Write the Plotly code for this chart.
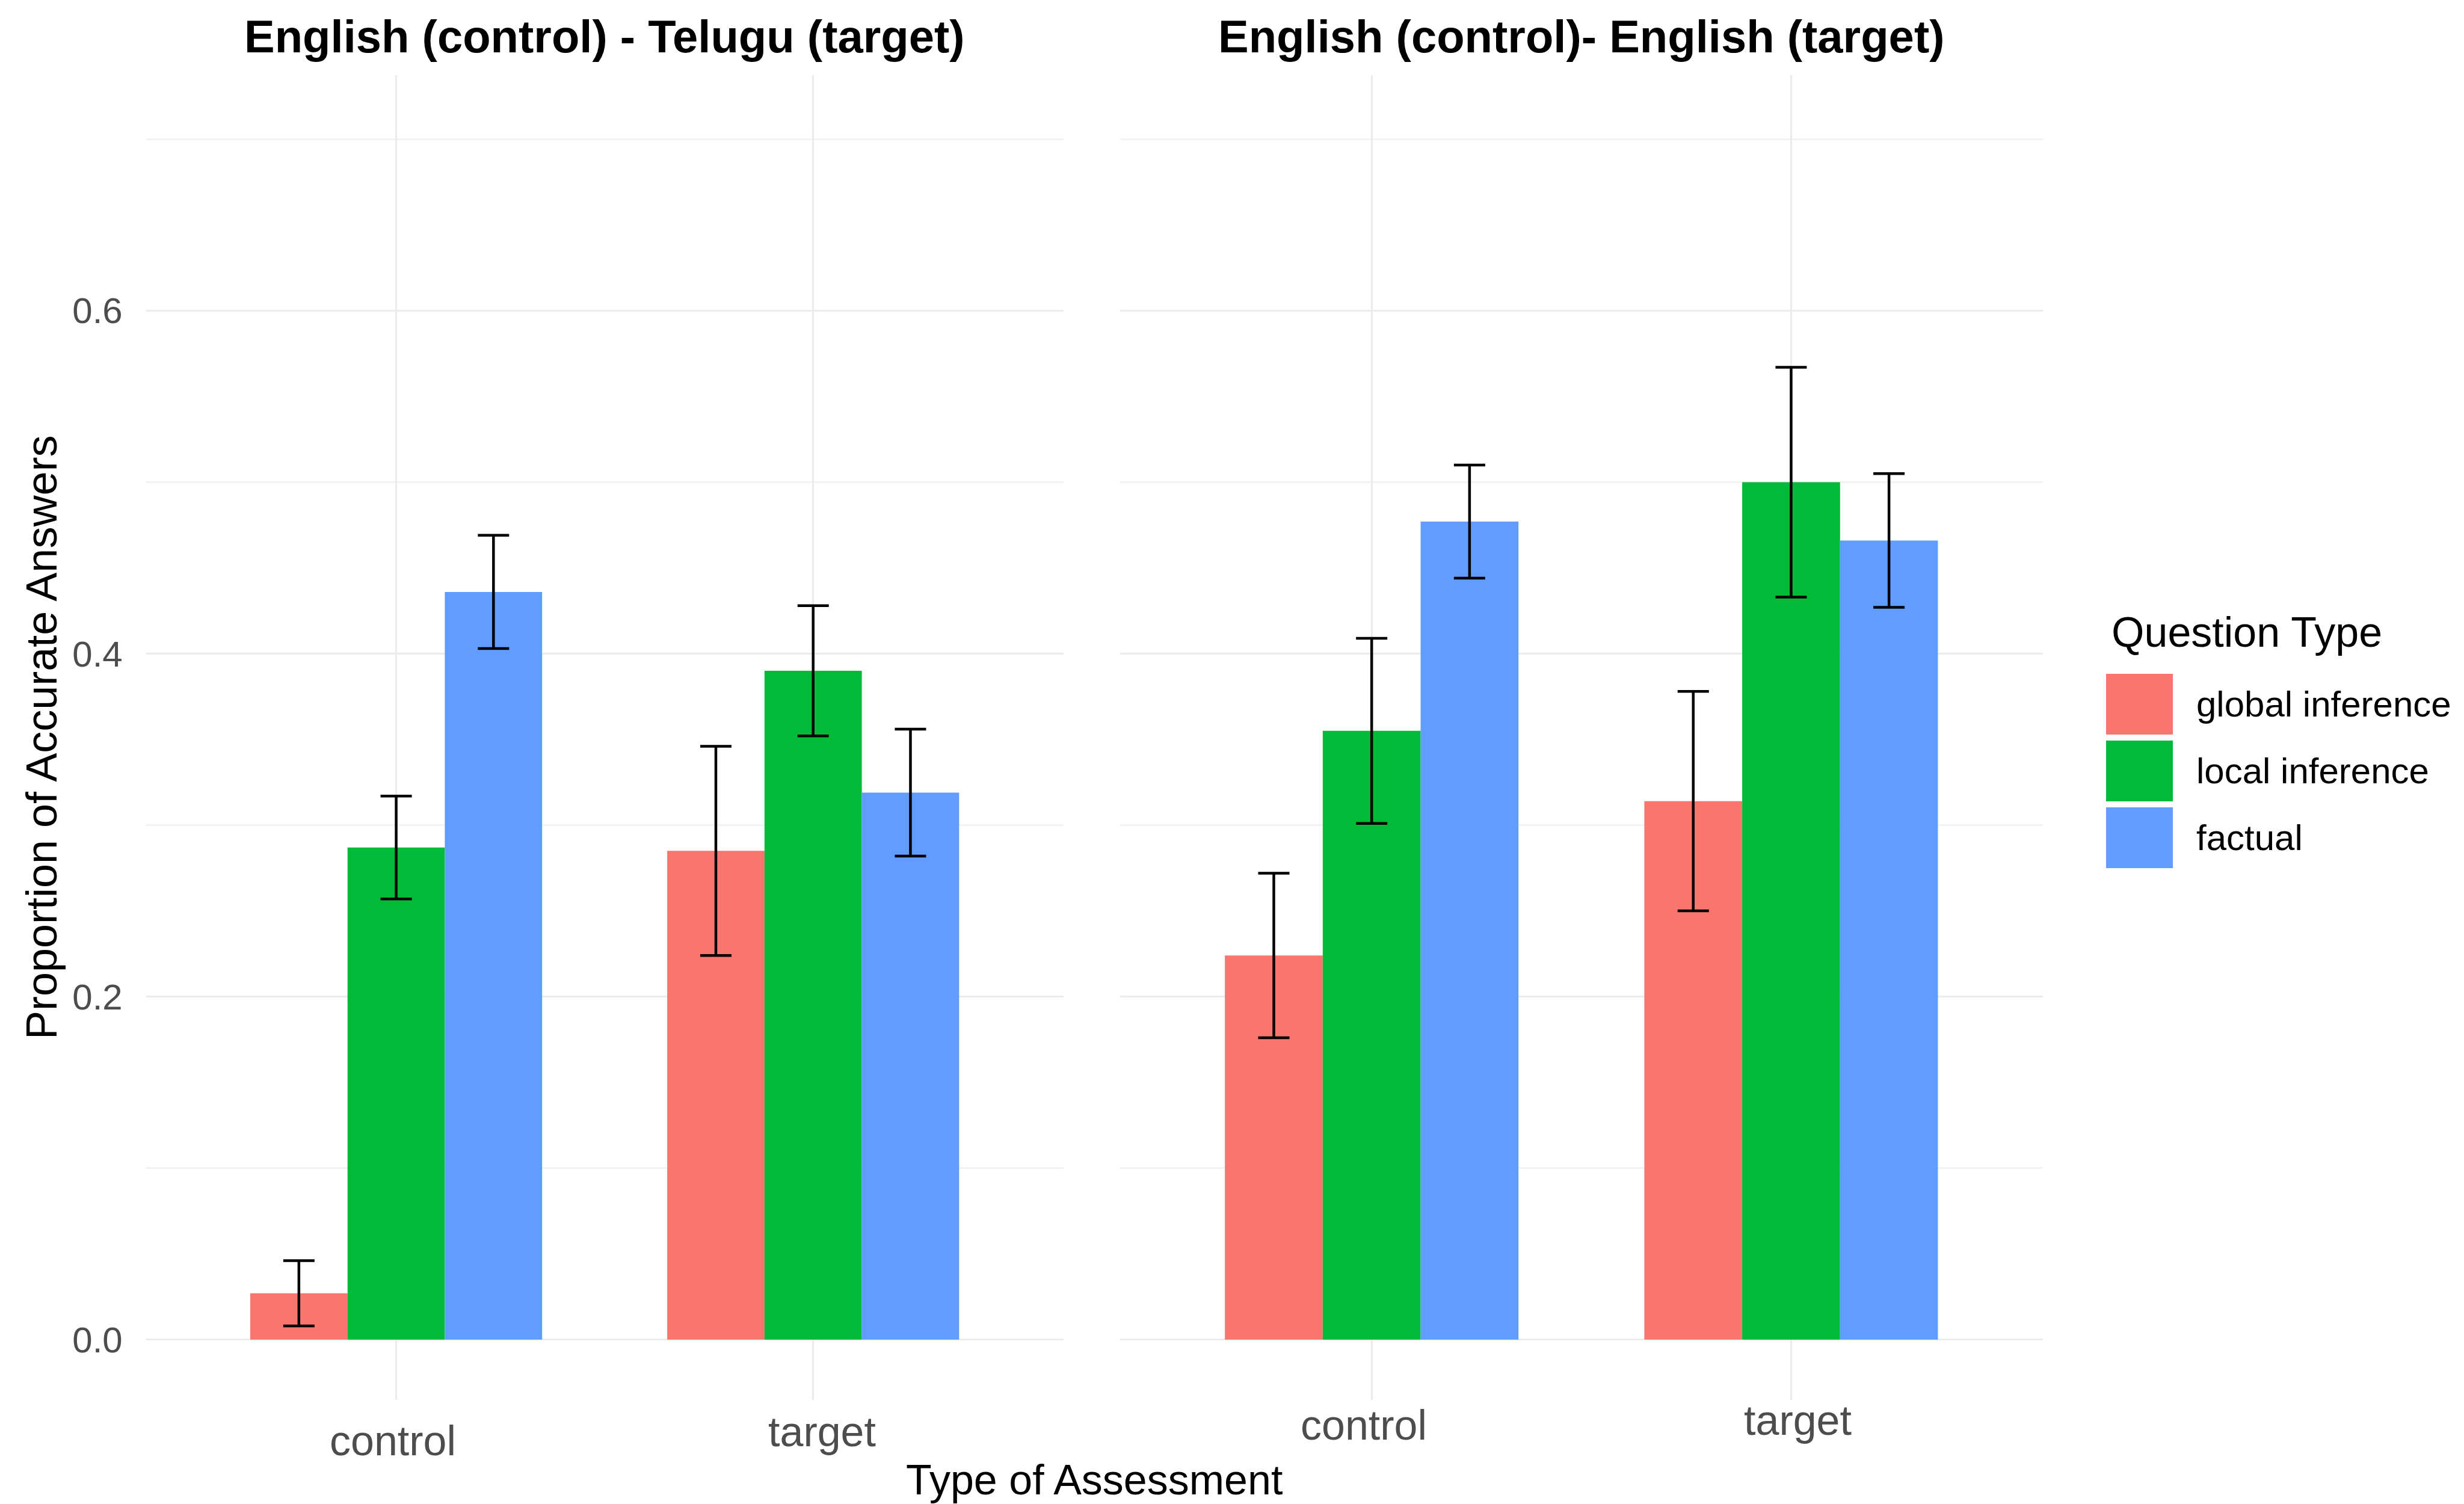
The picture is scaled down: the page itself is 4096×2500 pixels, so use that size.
import plotly.graph_objects as go

# ---------------- data ----------------
assessment = ["control", "target"]
question_types = ["global inference", "local inference", "factual"]
colors = ["#F8766D", "#00BA38", "#619CFF"]
panel_titles = ["English (control) - Telugu (target)", "English (control)- English (target)"]

# Panel 1: English (control) - Telugu (target)
tel_global = [0.027, 0.285]
tel_local = [0.287, 0.390]
tel_factual = [0.436, 0.319]
tel_global_err = [0.019, 0.061]
tel_local_err = [0.030, 0.038]
tel_factual_err = [0.033, 0.037]

# Panel 2: English (control) - English (target)
eng_global = [0.224, 0.314]
eng_local = [0.355, 0.500]
eng_factual = [0.477, 0.466]
eng_global_err = [0.048, 0.064]
eng_local_err = [0.054, 0.067]
eng_factual_err = [0.033, 0.039]

y_tick_vals = [0.0, 0.2, 0.4, 0.6]
y_tick_labels = ["0.0", "0.2", "0.4", "0.6"]

x_title = "Type of Assessment"
y_title = "Proportion of Accurate Answers"
legend_title = "Question Type"

# ---------------- figure ----------------
W, H = 4096, 2500
FONT = "Liberation Sans, Arial, sans-serif"

fig = go.Figure()

panels = [
    ("x", "y", [tel_global, tel_local, tel_factual], [tel_global_err, tel_local_err, tel_factual_err]),
    ("x2", "y2", [eng_global, eng_local, eng_factual], [eng_global_err, eng_local_err, eng_factual_err]),
]

for xa, ya, vals, errs in panels:
    for qt, col, v, e in zip(question_types, colors, vals, errs):
        fig.add_trace(go.Bar(
            x=assessment, y=v, name=qt, xaxis=xa, yaxis=ya,
            marker=dict(color=col, line=dict(width=0)),
            offsetgroup=qt, showlegend=False,
            error_y=dict(type="data", array=e, visible=True,
                         color="#000000", thickness=4.5, width=26),
        ))

grid_major = "#EBEBEB"
grid_minor = "#F3F3F3"

xaxis_common = dict(
    type="category", categoryorder="array", categoryarray=assessment,
    range=[-0.6, 1.6], showgrid=True, gridcolor=grid_major, gridwidth=3,
    showticklabels=False, ticks="", zeroline=False, showline=False,
)
yaxis_common = dict(
    range=[-0.035, 0.7375], showgrid=True, gridcolor=grid_major, gridwidth=3,
    zeroline=False, showline=False, ticks="",
    tickvals=y_tick_vals, ticktext=y_tick_labels,
    minor=dict(dtick=0.1, tick0=0, showgrid=True, gridcolor=grid_minor, gridwidth=2.5),
    domain=[0.0726, 0.9534],
)

fig.update_layout(
    width=W, height=H,
    margin=dict(l=0, r=0, t=0, b=0),
    paper_bgcolor="white", plot_bgcolor="white",
    barmode="group", bargap=0.3, bargroupgap=0,
    font=dict(family=FONT, color="#000000"),
    xaxis=dict(domain=[0.0573, 0.4296], anchor="y", **xaxis_common),
    xaxis2=dict(domain=[0.4526, 0.8271], anchor="y2", **xaxis_common),
    yaxis=dict(anchor="x", showticklabels=True, ticklabelstandoff=38,
               tickfont=dict(size=60, color="#4D4D4D", family=FONT), **yaxis_common),
    yaxis2=dict(anchor="x2", matches="y", showticklabels=False, **yaxis_common),
)

ann = []
# panel titles
for xc, t in zip([0.2434, 0.6398], panel_titles):
    ann.append(dict(text="<b>" + t + "</b>", x=xc, y=0.979, xref="paper", yref="paper",
                    showarrow=False, xanchor="center", yanchor="middle",
                    font=dict(size=76, color="#000000", family=FONT)))

# x tick labels (slightly uneven in the reference)
tick_pos = [("x", 0.0452, -6), ("x", 0.0512, 15), ("x2", 0.0556, -13), ("x2", 0.0588, 11)]
for i, (xr, yp, xs) in enumerate(tick_pos):
    ann.append(dict(text=assessment[i % 2], x=assessment[i % 2], xref=xr, y=yp, yref="paper",
                    xshift=xs, showarrow=False, xanchor="center", yanchor="middle",
                    font=dict(size=70, color="#4D4D4D", family=FONT)))

# axis titles
ann.append(dict(text=x_title, x=0.4421, y=0.003, xref="paper", yref="paper",
                showarrow=False, xanchor="center", yanchor="bottom",
                font=dict(size=70, color="#000000", family=FONT)))
ann.append(dict(text=y_title, x=0.0148, y=0.513, xref="paper", yref="paper",
                showarrow=False, xanchor="center", yanchor="middle", textangle=-90,
                font=dict(size=72, color="#000000", family=FONT)))

# legend (drawn manually to get large square keys)
ann.append(dict(text=legend_title, x=0.8545, y=0.583, xref="paper", yref="paper",
                showarrow=False, xanchor="left", yanchor="middle",
                font=dict(size=70, color="#000000", family=FONT)))
key_tops = [1112, 1223, 1334]
key_h = 101
shapes = []
for qt, col, top in zip(question_types, colors, key_tops):
    y1 = 1 - top / H
    y0 = 1 - (top + key_h) / H
    shapes.append(dict(type="rect", xref="paper", yref="paper",
                       x0=3493 / W, x1=3604 / W, y0=y0, y1=y1,
                       fillcolor=col, line=dict(width=0)))
    ann.append(dict(text=qt, x=3641 / W, y=(y0 + y1) / 2, xref="paper", yref="paper",
                    showarrow=False, xanchor="left", yanchor="middle",
                    font=dict(size=60, color="#000000", family=FONT)))

fig.update_layout(annotations=ann, shapes=shapes)

fig.write_html("out.html")
